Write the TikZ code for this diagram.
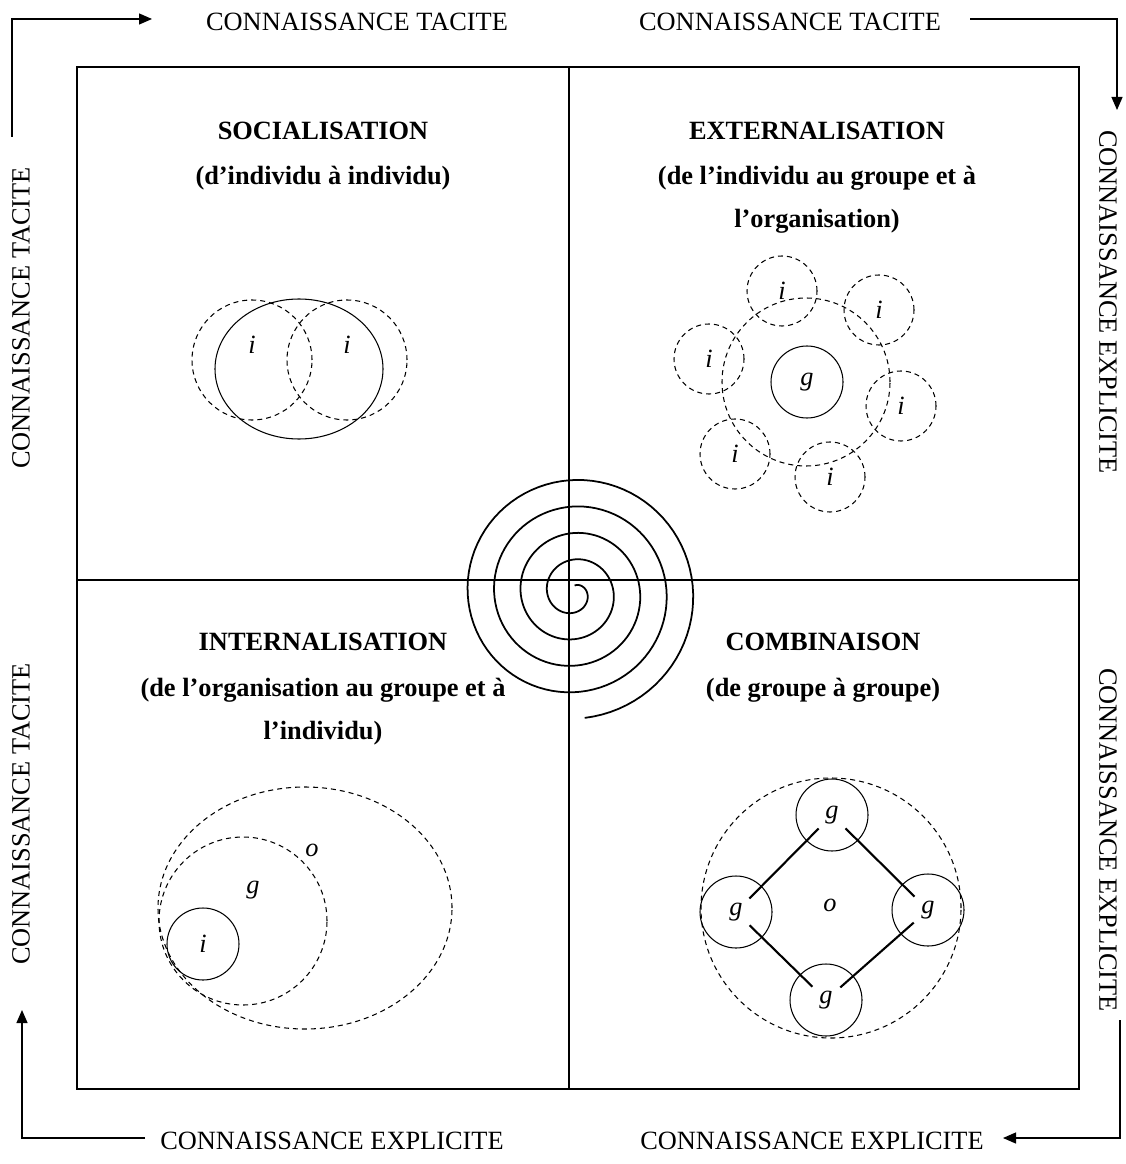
\documentclass[tikz,border=0pt]{standalone}
\usepackage{fontspec}
\setmainfont{Liberation Serif}
\usetikzlibrary{arrows.meta,positioning}

\tikzset{
  axe/.style={font=\fontsize{15}{18}\selectfont},
  titre/.style={font=\bfseries\fontsize{15}{18}\selectfont},
  sous/.style={font=\bfseries\fontsize{15}{24.5}\selectfont,align=center},
  lettre/.style={font=\itshape\fontsize{15}{18}\selectfont,inner sep=0pt},
  pointille/.style={dash pattern=on 1mm off 0.8mm,line width=0.6pt},
  fleche/.style={-{Triangle[length=2.6mm,width=2.2mm]},line width=0.7pt},
  lien/.style={line width=1.2pt,shorten <=3.8mm,shorten >=3.8mm},
  indiv/.style={circle,draw,pointille,minimum size=14mm,lettre},
  groupe/.style={circle,draw,line width=0.6pt,minimum size=14.4mm,lettre},
}

\begin{document}
\begin{tikzpicture}[x=0.2mm,y=-0.2mm]
    \useasboundingbox (0,0) rectangle (1125,1164);

    % cadre et axes
    \draw[line width=1.1pt] (77,67) rectangle (1079,1089);
    \draw[line width=0.6pt] (569,67) -- (569,1089);
    \draw[line width=0.6pt] (77,580) -- (1079,580);

    % spirale
    \draw[line width=1pt] plot[domain=-83:1525,samples=400]
      ({573.75+(20+0.07361*(\x-90))*cos(\x)},{592.75+(20+0.07361*(\x-90))*sin(\x)});

    % textes autour du cadre
    \node[axe] (tacG) at (357,22) {CONNAISSANCE TACITE};
    \node[axe] (tacD) at (790,22) {CONNAISSANCE TACITE};
    \node[axe,rotate=90] (tacH) at (21,318) {CONNAISSANCE TACITE};
    \node[axe,rotate=90] (tacB) at (21,814) {CONNAISSANCE TACITE};
    \node[axe,rotate=-90] (expH) at (1108,302) {CONNAISSANCE EXPLICITE};
    \node[axe,rotate=-90] (expB) at (1108,840) {CONNAISSANCE EXPLICITE};
    \node[axe] (expG) at (332,1141) {CONNAISSANCE EXPLICITE};
    \node[axe] (expD) at (812,1141) {CONNAISSANCE EXPLICITE};

    % fleches de coin
    \coordinate (hgA) at (12,137);   \coordinate (hgB) at (152,19);
    \coordinate (hdA) at (970,19);   \coordinate (hdB) at (1117,110);
    \coordinate (bdA) at (1120,1020); \coordinate (bdB) at (1003,1138);
    \coordinate (bgA) at (145,1138); \coordinate (bgB) at (22,1010);
    \draw[fleche] (hgA) |- (hgB);
    \draw[fleche] (hdA) -| (hdB);
    \draw[fleche] (bdA) |- (bdB);
    \draw[fleche] (bgA) -| (bgB);

    % titres des quadrants
    \node[titre] (soc) at (323,131) {SOCIALISATION};
    \node[sous] (socT) at (323,178) {(d’individu à individu)};
    \node[titre] (ext) at (817,131) {EXTERNALISATION};
    \node[sous] (extT) at (817,200) {(de l’individu au groupe et à\\l’organisation)};
    \node[titre] (int) at (323,642) {INTERNALISATION};
    \node[sous] (intT) at (323,712) {(de l’organisation au groupe et à\\l’individu)};
    \node[titre] (comb) at (823,642) {COMBINAISON};
    \node[sous] (combT) at (823,690) {(de groupe à groupe)};

    % socialisation
    \draw[pointille] (252,360) circle[radius=12mm];
    \draw[pointille] (347,360) circle[radius=12mm];
    \draw[line width=0.6pt] (299,369) ellipse[x radius=16.8mm,y radius=14mm];
    \node[lettre] (s1) at (252,345) {i};
    \node[lettre] (s2) at (347,345) {i};

    % externalisation
    \draw[pointille] (806,382) circle[radius=16.8mm];
    \node[groupe] (eg) at (807,382) {g};
    \node[indiv] (e1) at (782,291) {i};
    \node[indiv] (e2) at (879,310) {i};
    \node[indiv] (e3) at (709,359) {i};
    \node[indiv] (e4) at (901,406) {i};
    \node[indiv] (e5) at (735,454) {i};
    \node[indiv] (e6) at (830,477) {i};

    % internalisation
    \draw[pointille] (305,908) ellipse[x radius=29.4mm,y radius=24.2mm];
    \draw[pointille] (243,921) circle[radius=16.8mm];
    \node[groupe] (ii) at (203,944) {i};
    \node[lettre] (io) at (312,850) {o};
    \node[lettre] (ig) at (253,890) {g};

    % combinaison
    \draw[pointille] (831,908) circle[radius=26mm];
    \node[groupe] (gT) at (832,815) {g};
    \node[groupe] (gL) at (736,912) {g};
    \node[groupe] (gR) at (928,910) {g};
    \node[groupe] (gB) at (826,1000) {g};
    \node[lettre] (co) at (830,905) {o};
    \draw[lien] (gT.center) -- (gL.center);
    \draw[lien] (gT.center) -- (gR.center);
    \draw[lien] (gL.center) -- (gB.center);
    \draw[lien] (gR.center) -- (gB.center);

\end{tikzpicture}
\end{document}
